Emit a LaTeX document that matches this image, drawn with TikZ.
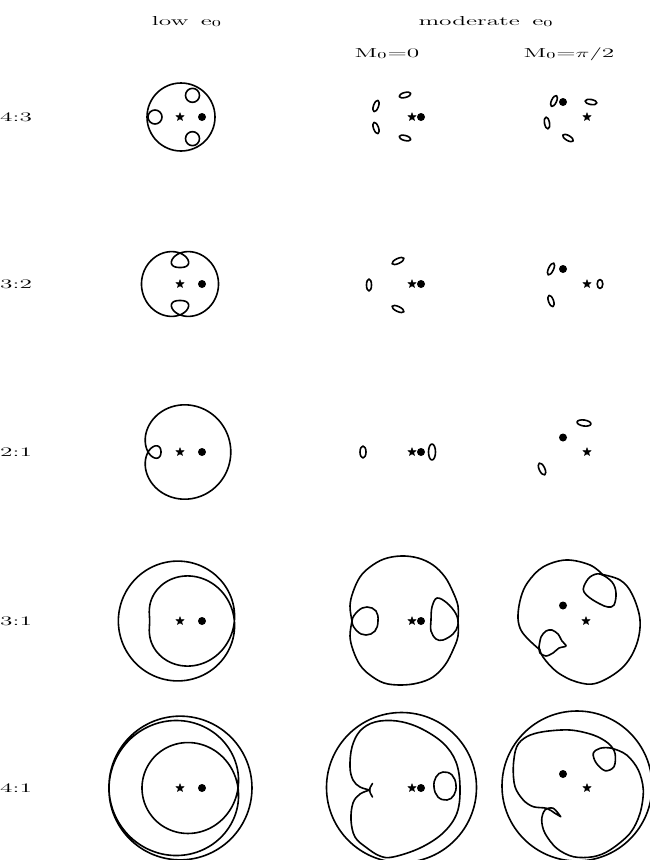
\documentclass[tikz,border=0pt]{standalone}
\usepackage{graphicx}
\usepackage{fontspec}
\usetikzlibrary{shapes.geometric}

% stretched labels, the way the plot prints them
\newcommand\wide[1]{\scalebox{1.95}[1]{\addfontfeatures{FakeBold=2.5}#1}}

% Kepler: eccentric anomaly (deg) by fixed point, then true anomaly
\makeatletter
\newcommand\kepstep{\pgfmathsetmacro\kpE{\kpM+deg(\kpe*sin(\kpE))}}
\pgfmathdeclarefunction{kepE}{2}{%
  \begingroup
    \pgfmathsetmacro\kpM{#1}\pgfmathsetmacro\kpe{#2}\let\kpE\kpM
    \kepstep\kepstep\kepstep\kepstep\kepstep\kepstep
    \kepstep\kepstep\kepstep\kepstep\kepstep\kepstep
    \pgfmathparse{\kpE}\pgfmath@smuggleone\pgfmathresult
  \endgroup}
\pgfmathdeclarefunction{kepF}{2}{%
  \begingroup
    \pgfmathsetmacro\kpEE{kepE(#1,#2)}%
    \pgfmathsetmacro\kpb{#2/(1+sqrt(1-#2*#2))}%
    \pgfmathparse{\kpEE+2*atan(\kpb*sin(\kpEE)/(1-\kpb*cos(\kpEE)))}%
    \pgfmath@smuggleone\pgfmathresult
  \endgroup}
\makeatother

% #1 centre, #2 a, #3 e, #4 period ratio, #5 phi0, #6 end of M, #7 samples
\newcommand\keporbit[7]{%
  \draw[orbit, shift={(#1)}] plot[variable=\m, domain=0:#6, samples=#7]
    ({kepF(\m,#3)-#4*\m+#5}:{#2*(1-#3*#3)/(1+#3*cos(kepF(\m,#3)))});}

% small loop: centre, rx, ry, turn
\newcommand\blob[4]{\draw[orbit] (#1) ellipse[x radius=#2pt, y radius=#3pt, rotate=#4];}

\begin{document}
\begin{tikzpicture}[x=1pt, y=-1pt,
    orbit/.style={line width=1.6pt, line join=round, line cap=round},
    starmark/.style={star, star points=5, star point ratio=2.3, fill, draw, line width=0.4pt, inner sep=0pt, minimum size=8.5pt},
    planet/.style={circle, fill, inner sep=0pt, minimum size=8pt},
    lbl/.style={font=\fontsize{13}{15}\selectfont, inner sep=0pt, anchor=base}
]
\useasboundingbox (0,0) rectangle (650,860);

% headers
\node[lbl] (hlow) at (187,25) {\wide{low\, e\textsubscript{0}}};
\node[lbl] (hmod) at (486,25) {\wide{moderate\, e\textsubscript{0}}};
\node[lbl] (hmza) at (387,57) {\wide{M\textsubscript{0}=0}};
\node[lbl] (hmzb) at (569,57) {\wide{M\textsubscript{0}=$\pi$/2}};

% row labels
\node[lbl, anchor=base west] (r43) at (0,121) {\wide{4:3}};
\node[lbl, anchor=base west] (r32) at (0,288) {\wide{3:2}};
\node[lbl, anchor=base west] (r21) at (0,456) {\wide{2:1}};
\node[lbl, anchor=base west] (r31) at (0,625) {\wide{3:1}};
\node[lbl, anchor=base west] (r41) at (0,792) {\wide{4:1}};

% centres of the panels
\coordinate (c1) at (180,117);
\coordinate (c2) at (180,284);
\coordinate (c3) at (180,452);
\coordinate (c4) at (180,621);
\coordinate (c5) at (180,788);

% ---------- low e0 ----------
% 4:3, a round path with three inner loops
\draw[orbit] (181,117) circle[radius=34];
\foreach \a in {180,60,-60}
  \draw[orbit] (c1) ++(\a:25) circle[radius=7];
\keporbit{c2}{27.5}{0.40}{1.5}{90}{720}{481}
\keporbit{c3}{34.9}{0.455}{2}{180}{360}{361}
\keporbit{c4}{46}{0.34}{3}{180}{360}{361}
% 4:1, three turns out from the pericentre and back
\draw[orbit, shift={(c5)}] plot[variable=\s, domain=-1.5:1.5, samples=361]
  ({180-360*\s}:{72-34*exp(-(\s/0.53)^2)});

\foreach \r in {1,...,5}{
  \node[starmark] (sa\r) at (c\r) {};
  \node[planet] (pa\r) at ([xshift=22pt]c\r) {};
}

% ---------- moderate e0, M0=0 ----------
\foreach \r/\y in {1/117,2/284,3/452,4/621,5/788}{
  \node[starmark] (sb\r) at (412,\y) {};
  \node[planet] (pb\r) at (421,\y) {};
}
% 4:3
\blob{405,95}{6}{2.5}{15}
\blob{376,106}{2.5}{6}{-20}
\blob{376,128}{2.5}{6}{20}
\blob{405,138}{6}{2.5}{-15}
% 3:2
\blob{398,261}{6.5}{2.5}{25}
\blob{369,285}{2.5}{6}{0}
\blob{398,309}{6.5}{2.5}{-25}
% 2:1
\blob{363,452}{3}{6}{0}
\blob{432,452}{3.5}{8}{0}
% 3:1
\draw[orbit] plot[smooth, tension=0.6] coordinates {(352,621) (350,606) (353,592) (360,577) (370,567) (384,559) (401,556) (418,558) (433,565) (445,577) (453,592) (458,606) (458,620)};
\draw[orbit] plot[smooth, tension=0.6] coordinates {(352,621) (350,636) (353,650) (360,665) (370,675) (384,683) (401,685) (418,683) (433,677) (445,665) (453,650) (458,636) (458,621)};
\draw[orbit] plot[smooth cycle, tension=0.7] coordinates {(352,621) (358,611) (367,607) (376,611) (378,621) (375,631) (366,635) (357,631)};
\draw[orbit] plot[smooth cycle, tension=0.6] coordinates {(432,607) (437,598) (447,603) (456,614) (458,625) (453,634) (443,640) (436,639) (431,631) (431,620)};
% 4:1
\draw[orbit] (401.5,787.5) circle[radius=75];
\draw[orbit] plot[smooth, tension=0.6] coordinates {(370,790) (360,787) (353,780) (350,767) (352,747) (360,731) (375,722) (397,721) (420,728) (443,743) (456,762) (460,787) (457,813) (443,833) (420,848) (393,857) (380,856) (367,848) (355,837) (351,820) (353,803) (360,794) (370,790)};
\draw[orbit] (372.5,783.5) .. controls (368.5,790) .. (372.5,797);
\draw[orbit] plot[smooth cycle, tension=0.7] coordinates {(436,777) (443,772) (452,775) (456,785) (454,795) (447,800) (438,797) (434,787)};

% ---------- moderate e0, M0=pi/2 ----------
\node[starmark] (sc1) at (587,117) {};  \node[planet] (pc1) at (563,102) {};
\node[starmark] (sc2) at (587,284) {};  \node[planet] (pc2) at (563,269) {};
\node[starmark] (sc3) at (587,452) {};  \node[planet] (pc3) at (563,437.5) {};
\node[starmark] (sc4) at (586,621) {};  \node[planet] (pc4) at (563,605.5) {};
\node[starmark] (sc5) at (587,788) {};  \node[planet] (pc5) at (563,774) {};
% 4:3
\blob{554,101}{2.5}{6}{-25}
\blob{591,102}{6}{2.5}{-10}
\blob{547,123}{2.5}{6}{10}
\blob{568,138}{6}{2.5}{-30}
% 3:2
\blob{551,269}{2.5}{6.5}{-25}
\blob{600,284}{2.8}{4.5}{0}
\blob{551,301}{2.5}{6}{20}
% 2:1
\blob{584,423}{7}{3}{-8}
\blob{542,469}{2.8}{6.5}{25}
% 3:1
\draw[orbit] plot[smooth, tension=0.6] coordinates {(540,650) (527,638) (520,628) (518,615) (521,597) (528,582) (543,567) (566,560) (590,565) (603,575)};
\draw[orbit] plot[smooth, tension=0.6] coordinates {(600,574) (620,580) (632,594) (640,620) (636,646) (622,668) (597,683) (577,682) (557,672) (543,657) (539,647)};
\draw[orbit] plot[smooth cycle, tension=0.6] coordinates {(584,586) (590,577) (600,574) (612,582) (616,593) (614,605) (608,607) (600,604) (590,598) (584,592)};
\draw[orbit] plot[smooth, tension=0.5] coordinates {(539,647) (541,637) (546,631) (552,630) (558,634) (562,641) (566,646) (559,648) (553,653) (546,656) (540,653) (539,647)};
% 4:1
\draw[orbit] (577,786) circle[radius=75];
\draw[orbit] plot[smooth, tension=0.55] coordinates {(560.7,816.7) (555,813.3) (546.7,808.3) (533.3,806.7) (523.3,800) (515,786.7) (513.3,766.7) (516.7,746.7) (526.7,736.7) (543.3,731.7) (570,730) (593.3,735) (608.3,743.3) (615,753.3) (614,766.7) (605,770.7) (596,762.7) (593.3,753.3) (600,748.3) (611.7,748.3) (626.7,755) (638.3,770) (643.3,790) (640,813.3) (630,833.3) (610,850) (593.3,856.7) (573.3,856.7) (556.7,848.3) (545,833.3) (541.7,820) (545,810) (553.3,808.3) (560.7,816.7)};

\end{tikzpicture}
\end{document}
